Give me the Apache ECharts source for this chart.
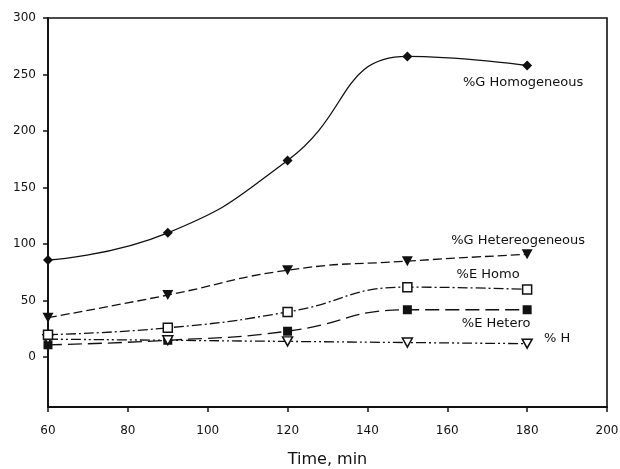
<!DOCTYPE html>
<html>
<head>
<meta charset="utf-8">
<script src="https://cdn.jsdelivr.net/npm/echarts@6/dist/echarts.min.js"></script>
<style>
  html, body { margin: 0; padding: 0; background: #fff; }
  #chart { width: 620px; height: 469px; }
</style>
</head>
<body>
<div id="chart"></div>
<script>
// Sampling times (min)
const times = [60, 90, 120, 150, 180];
// Yields (%) per product / catalyst type
const gHomogeneous = [86, 110, 174, 266, 258];
const gHetero = [35, 55, 77, 85, 91];
const eHomo = [20, 26, 40, 62, 60];
const eHetero = [11, 15, 23, 42, 42];
const hPct = [16, 15, 14, 13, 12];
// Axis ticks
const xTicks = [60, 80, 100, 120, 140, 160, 180, 200];
const yTicks = [0, 50, 100, 150, 200, 250, 300];

const FONT = 'DejaVu Sans';
const INK = '#111';

function pairs(vals, lastLabel) {
  return vals.map((v, i) => {
    const item = { value: [times[i], v] };
    if (i === vals.length - 1 && lastLabel) item.label = lastLabel;
    return item;
  });
}

function tag(text, dx, dy) {
  return {
    show: true,
    position: 'inside',
    align: 'center',
    verticalAlign: 'middle',
    offset: [dx, dy],
    formatter: text,
    color: INK,
    fontFamily: FONT,
    fontSize: 13
  };
}

function lineSeries(name, vals, opts) {
  return {
    name: name,
    type: 'line',
    smooth: 0.5,
    data: pairs(vals, opts.label),
    symbol: opts.symbol,
    symbolSize: opts.size,
    symbolRotate: opts.rotate || 0,
    showAllSymbol: true,
    lineStyle: { color: INK, width: 1.3, type: opts.dash },
    itemStyle: {
      color: opts.hollow ? '#fff' : INK,
      borderColor: INK,
      borderWidth: opts.hollow ? 1.5 : 0,
      opacity: 1
    },
    emphasis: { disabled: true },
    z: opts.z || 2
  };
}

const chart = echarts.init(document.getElementById('chart'), null, { renderer: 'canvas' });
chart.setOption({
  animation: false,
  backgroundColor: '#fff',
  grid: {
    left: 48, top: 18, right: 13, bottom: 62,
    containLabel: false,
    outerBoundsMode: 'none',
    show: true, borderColor: INK, borderWidth: 1.6, backgroundColor: 'transparent'
  },
  xAxis: {
    type: 'value',
    min: 60, max: 200, interval: 20,
    name: 'Time, min',
    nameLocation: 'middle',
    nameGap: 45,
    nameTextStyle: { fontFamily: FONT, fontSize: 16, color: INK },
    axisLine: { show: true, onZero: false, lineStyle: { color: INK, width: 1.8 } },
    axisTick: { show: true, inside: false, length: 5, lineStyle: { color: INK, width: 1.5 } },
    axisLabel: { margin: 18, fontFamily: FONT, fontSize: 12, color: INK,
      customValues: xTicks },
    splitLine: { show: false }
  },
  yAxis: {
    type: 'value',
    min: -44, max: 300,
    axisLine: { show: true, onZero: false, lineStyle: { color: INK, width: 1.8 } },
    axisTick: { show: true, inside: false, length: 5, lineStyle: { color: INK, width: 1.5 },
      customValues: yTicks },
    axisLabel: { margin: 12, fontFamily: FONT, fontSize: 12, color: INK,
      customValues: yTicks },
    splitLine: { show: false }
  },
  series: [
    lineSeries('%G Homogeneous', gHomogeneous, {
      symbol: 'diamond', size: 10, dash: 'solid',
      label: tag('%G Homogeneous', -4, 17), z: 5
    }),
    lineSeries('%G Hetereogeneous', gHetero, {
      symbol: 'triangle', size: [11, 10], rotate: 180, dash: [9, 4],
      label: tag('%G Hetereogeneous', -9, -14), z: 4
    }),
    lineSeries('%E Homo', eHomo, {
      symbol: 'rect', size: 9, hollow: true, dash: [10, 3, 2, 3],
      label: tag('%E Homo', -39, -15), z: 4
    }),
    lineSeries('%E Hetero', eHetero, {
      symbol: 'rect', size: 9, dash: [14, 6],
      label: tag('%E Hetero', -31, 14), z: 3
    }),
    lineSeries('% H', hPct, {
      symbol: 'triangle', size: [10, 9], rotate: 180, hollow: true, dash: [10, 3, 2, 3, 2, 3],
      label: tag('% H', 30, -5), z: 3
    })
  ]
});
</script>
</body>
</html>
